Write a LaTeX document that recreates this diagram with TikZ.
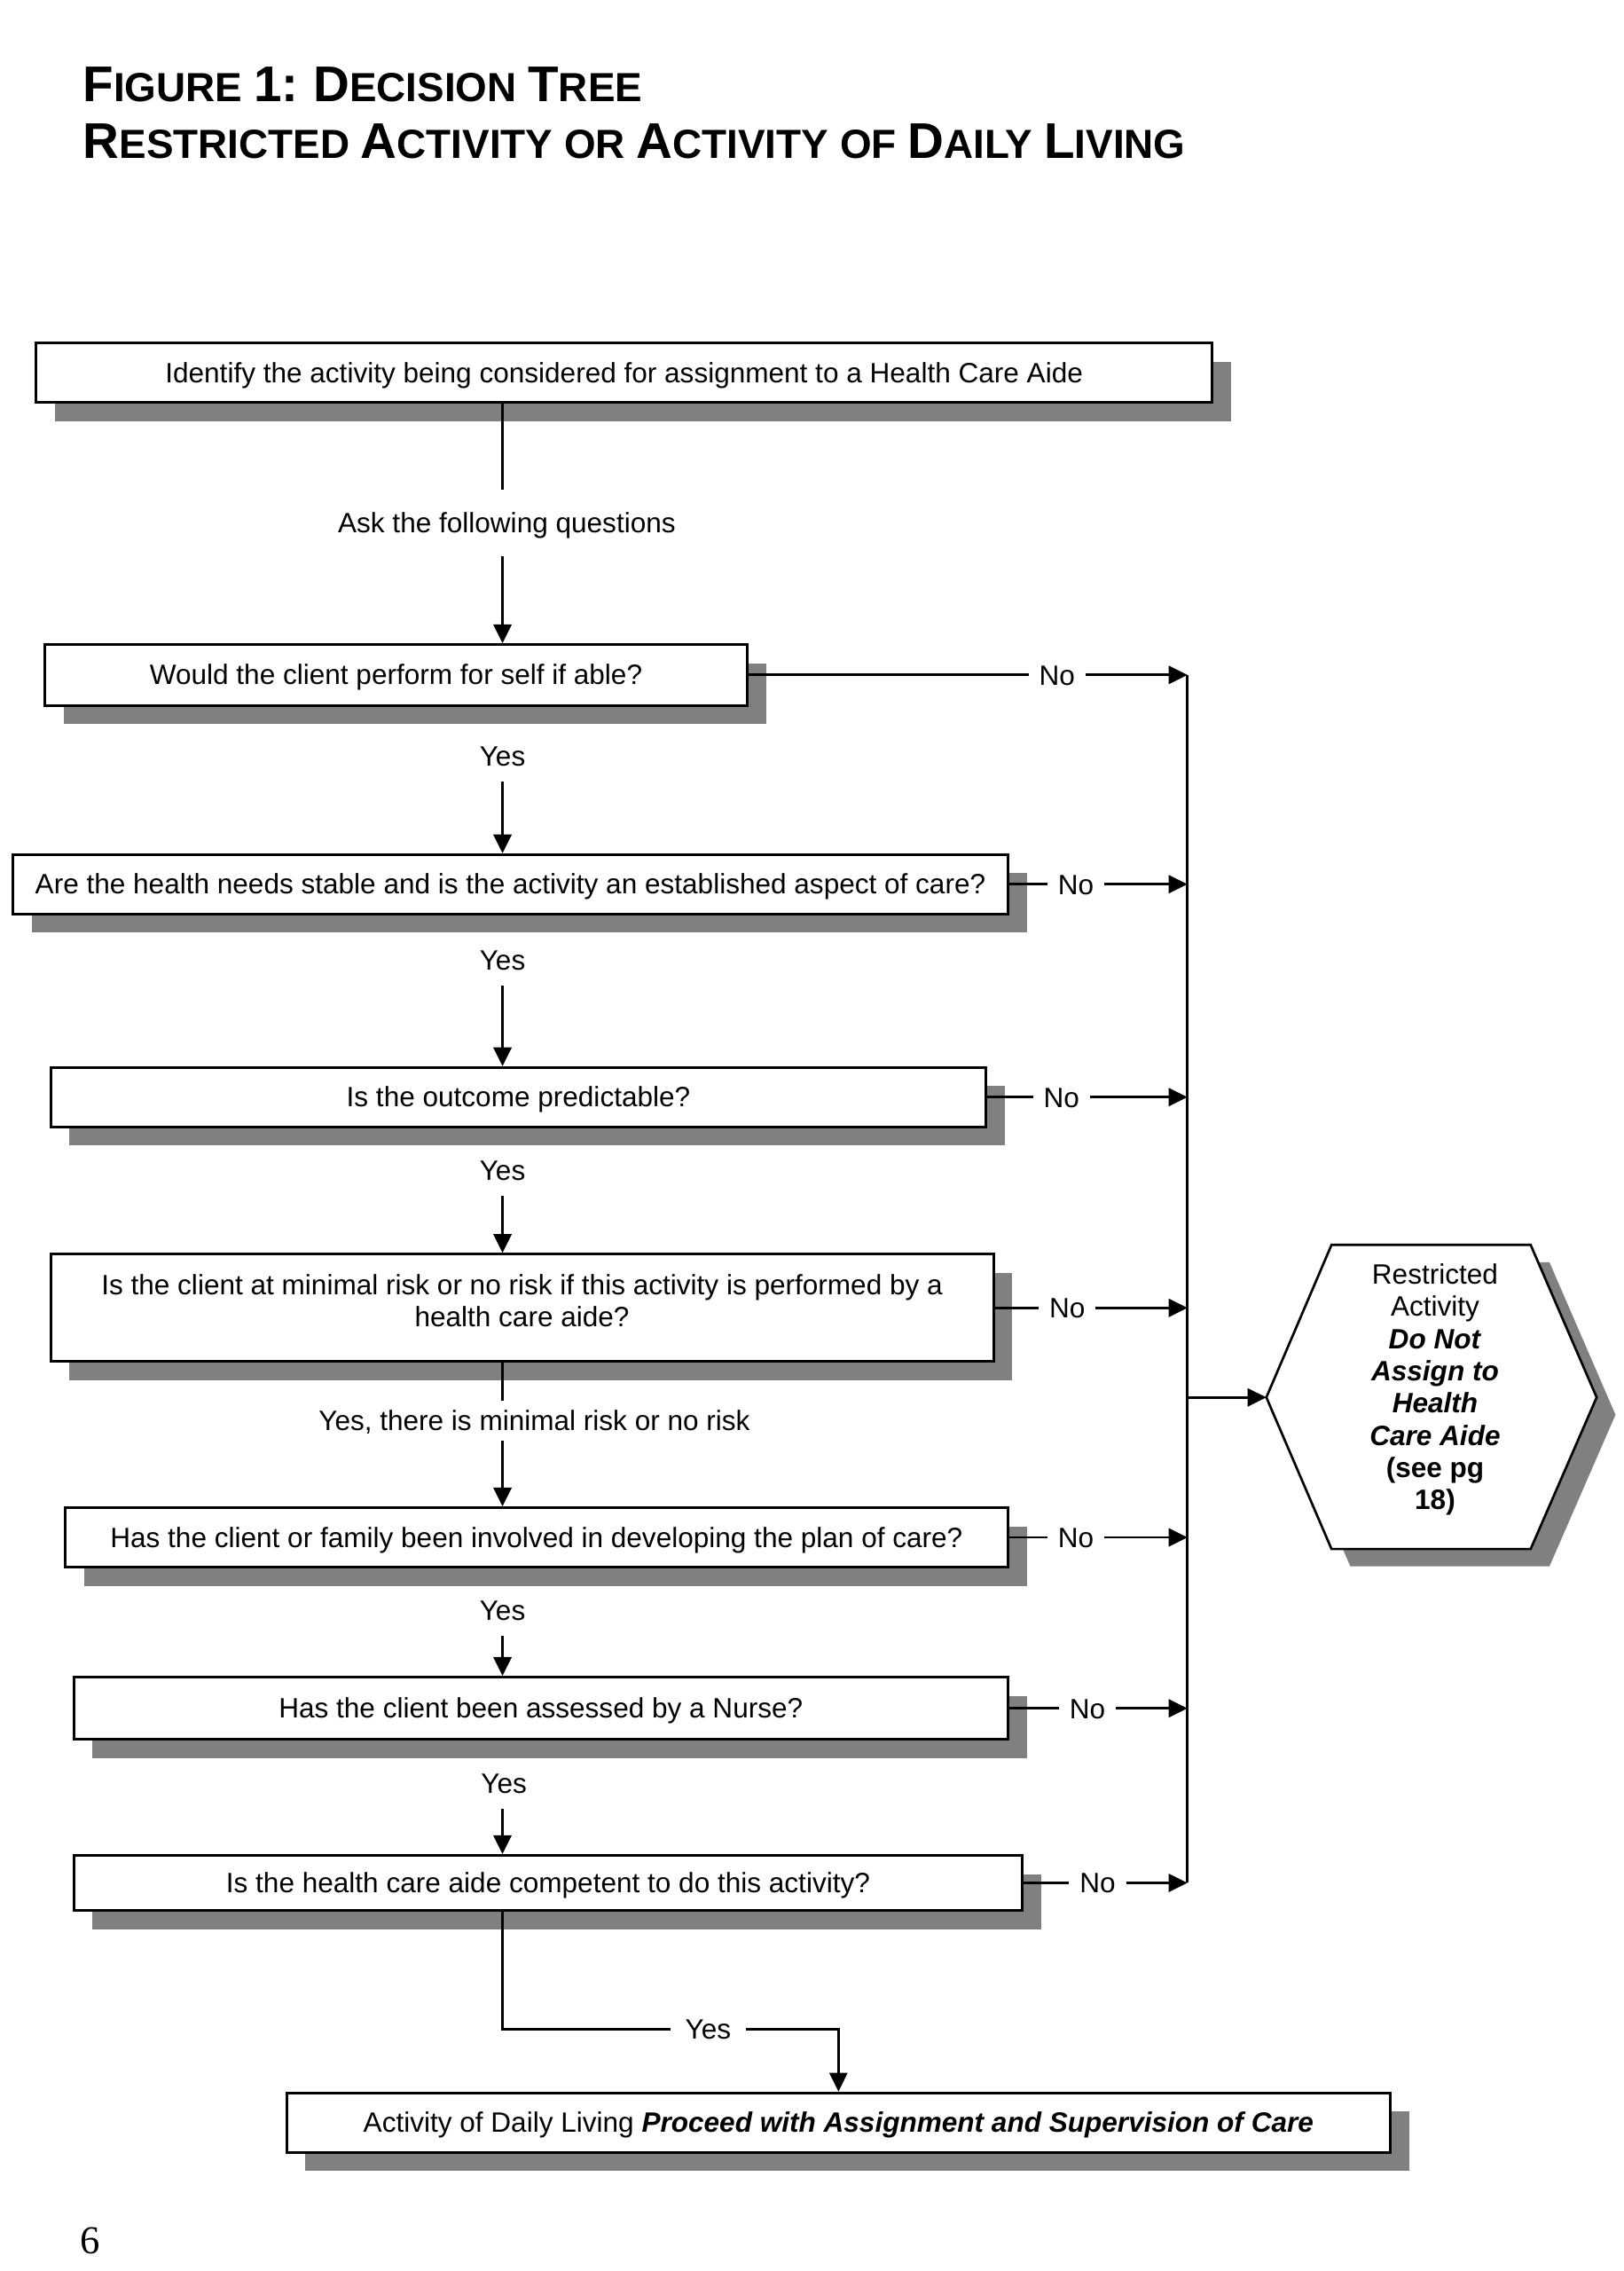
\documentclass[tikz,border=0pt]{standalone}
\usepackage{fontspec}
\setmainfont{Liberation Sans}
\newfontfamily\serifpn{Liberation Serif}
\usetikzlibrary{arrows.meta,shadows}
\definecolor{shadowgray}{RGB}{128,128,128}
\def\pxu{0.1928mm}
\newcommand{\tbig}{\fontsize{19}{22}\selectfont}
\newcommand{\tsml}{\fontsize{15.4}{18}\selectfont}
\begin{document}
\begin{tikzpicture}[x=0.1928mm,y=-0.1928mm,
  every node/.style={font=\fontsize{10.6}{12.2}\selectfont},
  box/.style={draw=black, line width=1pt, fill=white, inner sep=0pt, align=center,
     drop shadow={shadow xshift=2.5mm, shadow yshift=-2.5mm, fill=shadowgray, opacity=1}},
  onebox/.style={box, text height=7.9pt, text depth=0.5pt},
  lbl/.style={inner xsep=1.35mm, inner ysep=2mm, text height=7.6pt, text depth=0pt},
  conn/.style={line width=0.9pt},
  arr/.style={conn, -{Triangle[length=2.5mm,width=2.4mm]}}
]
\fill[white] (0,0) rectangle (1121,1568);
\useasboundingbox (0,0) rectangle (1121,1568);

% title
\node[anchor=base west, inner sep=0pt, font=\bfseries] (t1) at (57,70.4)
  {\tbig F\tsml IGURE \tbig 1:\tsml{} \tbig D\tsml ECISION \tbig T\tsml REE};
\node[anchor=base west, inner sep=0pt, font=\bfseries] (t2) at (57,109.3)
  {\tbig R\tsml ESTRICTED \tbig A\tsml CTIVITY OR \tbig A\tsml CTIVITY OF \tbig D\tsml AILY \tbig L\tsml IVING};

\coordinate (sp) at (347,0);
\coordinate (busT) at (820,466);
\coordinate (busB) at (820,1300);

% boxes
\node[onebox, minimum width=812*\pxu, minimum height=41*\pxu] (ident) at (431,257.5)
  {Identify the activity being considered for assignment to a Health Care Aide};
\node[onebox, minimum width=485*\pxu, minimum height=42*\pxu] (q1) at (273.5,466)
  {Would the client perform for self if able?};
\node[onebox, minimum width=687*\pxu, minimum height=41*\pxu] (q2) at (352.5,610.5)
  {Are the health needs stable and is the activity an established aspect of care?};
\node[onebox, minimum width=646*\pxu, minimum height=41*\pxu] (q3) at (358,757.5)
  {Is the outcome predictable?};
\node[box, minimum width=651*\pxu, minimum height=74*\pxu] (q4) at (360.5,903)
  {Is the client at minimal risk or no risk if this activity is performed by a\\health care aide?\\[-6.8pt]};
\node[onebox, minimum width=651*\pxu, minimum height=41*\pxu] (q5) at (370.5,1061.5)
  {Has the client or family been involved in developing the plan of care?};
\node[onebox, minimum width=645*\pxu, minimum height=43*\pxu] (q6) at (373.5,1179.5)
  {Has the client been assessed by a Nurse?};
\node[onebox, minimum width=655*\pxu, minimum height=38*\pxu] (q7) at (378.5,1300)
  {Is the health care aide competent to do this activity?};
\node[onebox, minimum width=762*\pxu, minimum height=41*\pxu] (adl) at (579,1465.5)
  {Activity of Daily Living \textbf{\textit{Proceed with Assignment and Supervision of Care}}};

% hexagon
\begin{scope}[shift={(13,12)}]
  \fill[shadowgray] (919.5,859.5) -- (1057,859.5) -- (1102.6,964.8) -- (1057,1069.5)
    -- (919.5,1069.5) -- (874.5,964.8) -- cycle;
\end{scope}
\draw[line width=0.9pt, fill=white] (919.5,859.5) -- (1057,859.5) -- (1102.6,964.8)
  -- (1057,1069.5) -- (919.5,1069.5) -- (874.5,964.8) -- cycle;
\coordinate (hexW) at (874.5,964.8);
\node[align=center, inner sep=0pt] (hex) at (991,959.5)
  {Restricted\\Activity\\\textbf{\textit{Do Not}}\\\textbf{\textit{Assign to}}\\\textbf{\textit{Health}}\\\textbf{\textit{Care Aide}}\\\textbf{(see pg}\\\textbf{18)}};

% labels
\node[lbl, inner ysep=3mm] (ask) at (350,361) {Ask the following questions};
\node[lbl] (yes1) at (347,522) {Yes};
\node[lbl] (yes2) at (347,663) {Yes};
\node[lbl] (yes3) at (347,808) {Yes};
\node[lbl, inner ysep=1.25mm] (yes4) at (369,981) {Yes, there is minimal risk or no risk};
\node[lbl] (yes5) at (347,1112) {Yes};
\node[lbl] (yes6) at (348,1231) {Yes};
\node[lbl, inner xsep=1.9mm] (yes7) at (489,1401) {Yes};
\node[lbl] (no1) at (730,466) {No};
\node[lbl] (no2) at (743,610.5) {No};
\node[lbl] (no3) at (733,757.5) {No};
\node[lbl] (no4) at (737,903) {No};
\node[lbl] (no5) at (743,1061.5) {No};
\node[lbl] (no6) at (751,1179.5) {No};
\node[lbl] (no7) at (758,1300) {No};

% vertical flow
\draw[conn] (ident.south -| sp) -- (ask.north -| sp);
\draw[arr] (ask.south -| sp) -- (q1.north -| sp);
\draw[arr] (yes1.south -| sp) -- (q2.north -| sp);
\draw[arr] (yes2.south -| sp) -- (q3.north -| sp);
\draw[arr] (yes3.south -| sp) -- (q4.north -| sp);
\draw[conn] (q4.south -| sp) -- (yes4.north -| sp);
\draw[arr] (yes4.south -| sp) -- (q5.north -| sp);
\draw[arr] (yes5.south -| sp) -- (q6.north -| sp);
\draw[arr] (yes6.south -| sp) -- (q7.north -| sp);
\draw[conn] (q7.south -| sp) |- (yes7.west);
\draw[arr] (yes7.east) -| (adl.north);

% no branches
\draw[conn] (busT) -- (busB);
\foreach \i in {1,...,7}{
  \draw[conn] (q\i.east) -- (no\i.west);
  \draw[arr] (no\i.east) -- (no\i.east -| busT);
}
\draw[arr] (hexW -| busT) -- (hexW);

% page number
\node[anchor=base west, inner sep=0pt, font=\serifpn\fontsize{15}{18}\selectfont] (pg) at (55,1556) {6};
\end{tikzpicture}
\end{document}
